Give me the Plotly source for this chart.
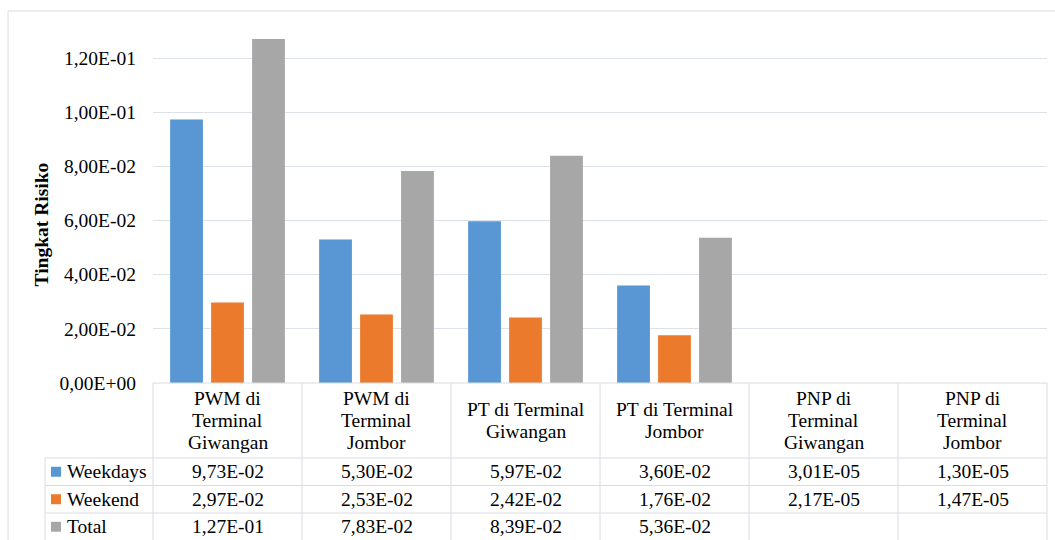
import plotly.graph_objects as go

# ---- data ----
categories = [
    "PWM di Terminal Giwangan",
    "PWM di Terminal Jombor",
    "PT di Terminal Giwangan",
    "PT di Terminal Jombor",
    "PNP di Terminal Giwangan",
    "PNP di Terminal Jombor",
]
# wrapped header lines for the data table
category_lines = [
    ["PWM di", "Terminal", "Giwangan"],
    ["PWM di", "Terminal", "Jombor"],
    ["PT di Terminal", "Giwangan"],
    ["PT di Terminal", "Jombor"],
    ["PNP di", "Terminal", "Giwangan"],
    ["PNP di", "Terminal", "Jombor"],
]
series_names = ["Weekdays", "Weekend", "Total"]
weekdays = [9.73e-02, 5.30e-02, 5.97e-02, 3.60e-02, 3.01e-05, 1.30e-05]
weekend = [2.97e-02, 2.53e-02, 2.42e-02, 1.76e-02, 2.17e-05, 1.47e-05]
total = [1.27e-01, 7.83e-02, 8.39e-02, 5.36e-02, None, None]
y_ticks = [0.0, 0.02, 0.04, 0.06, 0.08, 0.10, 0.12]
y_title = "Tingkat Risiko"

series_values = [weekdays, weekend, total]
series_colors = ["#5897d4", "#ec7a2d", "#a7a7a7"]

W, H = 1055, 540
FONT = "Liberation Serif"
FS = 19.5
GRID = "#dde1e8"
BORDER = "#d9dce2"


def sci(v):
    """Excel-style scientific label with decimal comma, e.g. 9,73E-02."""
    return f"{v:.2E}".replace(".", ",")


def px(x):
    return x / W


def py(y):
    return 1 - y / H


# plot area in pixels
PL, PR, PT, PB = 153, 1047, 12, 383
px_per_unit = (383 - 58) / 0.12
y_max = (PB - PT) / px_per_unit

fig = go.Figure()
for name, vals, col in zip(series_names, series_values, series_colors):
    fig.add_trace(go.Bar(
        x=categories, y=vals, name=name,
        # hairline outline keeps sub-pixel bars at their true (invisible) height
        marker=dict(color=col, line=dict(color=col, width=0.02)),
        showlegend=False,
    ))

fig.update_layout(
    width=W, height=H,
    margin=dict(l=0, r=0, t=0, b=0),
    paper_bgcolor="white", plot_bgcolor="white",
    barmode="group", bargap=0.175, bargroupgap=0.2,
    showlegend=False,
    font=dict(family=FONT, size=FS, color="#000000"),
    xaxis=dict(domain=[px(PL), px(PR)], showticklabels=False, showgrid=False,
               showline=False, zeroline=False, fixedrange=True, automargin=False),
    yaxis=dict(domain=[py(PB), py(PT)], range=[0, y_max],
               tickvals=y_ticks, ticktext=[sci(v) for v in y_ticks],
               tickfont=dict(family=FONT, size=FS, color="#000000"),
               ticks="", ticklabelstandoff=16, automargin=False,
               showgrid=True, gridcolor=GRID, gridwidth=1,
               zeroline=False, showline=False),
)

shapes = []
annotations = []


def hline(y, x0, x1, color=BORDER, width=1):
    shapes.append(dict(type="line", xref="paper", yref="paper",
                       x0=px(x0), x1=px(x1), y0=py(y), y1=py(y),
                       line=dict(color=color, width=width)))


def vline(x, y0, y1, color=BORDER, width=1):
    shapes.append(dict(type="line", xref="paper", yref="paper",
                       x0=px(x), x1=px(x), y0=py(y0), y1=py(y1),
                       line=dict(color=color, width=width)))


# chart area border
hline(11, 8, W)
vline(8, 11, H)

# data table grid
col_w = (PR - PL) / len(categories)
row_tops = [458, 485.5, 513]
hline(PB, PL, PR)
for y in row_tops:
    hline(y, 45, PR)
vline(45, row_tops[0], H)
for i in range(len(categories) + 1):
    vline(PL + i * col_w, PB, H)

# header labels (category names)
line_gap = 22.3
header_mid = 420.5
for cat, lines in zip(categories, category_lines):
    n = len(lines)
    for j, txt in enumerate(lines):
        yc = header_mid + (j - (n - 1) / 2) * line_gap
        annotations.append(dict(x=cat, xref="x", y=py(yc), yref="paper",
                                text=txt, showarrow=False,
                                xanchor="center", yanchor="middle",
                                font=dict(family=FONT, size=FS, color="#000000")))

# value rows with legend keys
row_h = 27.5
for r, (name, vals, col) in enumerate(zip(series_names, series_values, series_colors)):
    yc = row_tops[r] + row_h / 2
    shapes.append(dict(type="rect", xref="paper", yref="paper",
                       x0=px(51), x1=px(61), y0=py(yc - 5), y1=py(yc + 5),
                       fillcolor=col, line=dict(width=0)))
    annotations.append(dict(x=px(65), xref="paper", y=py(yc), yref="paper",
                            text=name, showarrow=False,
                            xanchor="left", yanchor="middle",
                            font=dict(family=FONT, size=FS, color="#000000")))
    for cat, v in zip(categories, vals):
        if v is None:
            continue
        annotations.append(dict(x=cat, xref="x", y=py(yc), yref="paper",
                                text=sci(v), showarrow=False,
                                xanchor="center", yanchor="middle",
                                font=dict(family=FONT, size=FS, color="#000000")))

# axis title
annotations.append(dict(x=px(40.5), xref="paper", y=py(225), yref="paper",
                        text=f"<b>{y_title}</b>", textangle=-90, showarrow=False,
                        xanchor="center", yanchor="middle",
                        font=dict(family=FONT, size=FS, color="#000000")))

fig.update_layout(shapes=shapes, annotations=annotations)
fig.write_html("out.html")
